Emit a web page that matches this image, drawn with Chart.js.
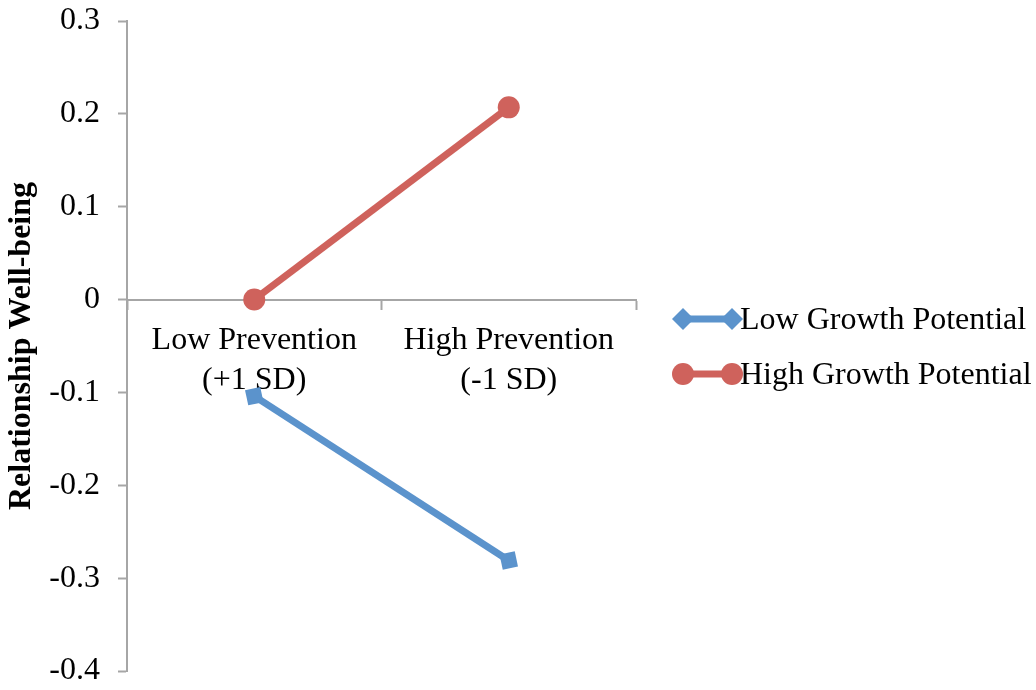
<!DOCTYPE html>
<html>
<head>
<meta charset="utf-8">
<script src="https://cdn.jsdelivr.net/npm/chart.js@4"></script>
<style>
  html, body { margin: 0; padding: 0; background: #fff; }
  #wrap { width: 1036px; height: 690px; }
</style>
</head>
<body>
<div id="wrap"><canvas id="chart"></canvas></div>
<script>
const categories = [["Low Prevention", "(+1 SD)"], ["High Prevention", "(-1 SD)"]];
const lowGrowth = [-0.104, -0.281];
const highGrowth = [0.0, 0.207];
const seriesNames = ["Low Growth Potential", "High Growth Potential"];

const BLUE = "#5B93CC";
const RED = "#CF625C";
const FONT = "'Liberation Serif', 'Times New Roman', serif";

// legend drawn by hand: line with a marker at each end, like the original
const sideLegend = {
  id: "sideLegend",
  afterDraw(chart) {
    const ctx = chart.ctx;
    const x0 = 683, x1 = 732;
    const ys = [319, 374];
    chart.data.datasets.forEach((ds, i) => {
      const y = ys[i];
      ctx.save();
      ctx.strokeStyle = ds.borderColor;
      ctx.lineWidth = 7;
      ctx.beginPath();
      ctx.moveTo(x0, y);
      ctx.lineTo(x1, y);
      ctx.stroke();
      const opts = { pointStyle: ds.legendStyle, radius: ds.legendRadius, rotation: 0, borderWidth: 0 };
      ctx.fillStyle = ds.borderColor;
      ctx.strokeStyle = ds.borderColor;
      Chart.helpers.drawPoint(ctx, opts, x0, y);
      Chart.helpers.drawPoint(ctx, opts, x1, y);
      ctx.fillStyle = "#000";
      ctx.font = "32px " + FONT;
      ctx.textBaseline = "middle";
      ctx.fillText(ds.label, 740, y + 2);
      ctx.restore();
    });
  }
};

new Chart(document.getElementById("chart"), {
  type: "line",
  data: {
    labels: categories,
    datasets: [
      {
        label: seriesNames[0],
        data: lowGrowth,
        borderColor: BLUE,
        backgroundColor: BLUE,
        borderWidth: 7,
        pointStyle: "rect",
        pointRotation: -12,
        pointRadius: 11,
        pointBorderWidth: 0,
        legendStyle: "rectRot",
        legendRadius: 11
      },
      {
        label: seriesNames[1],
        data: highGrowth,
        borderColor: RED,
        backgroundColor: RED,
        borderWidth: 7,
        pointStyle: "circle",
        pointRadius: 11,
        pointBorderWidth: 0,
        legendStyle: "circle",
        legendRadius: 11
      }
    ]
  },
  options: {
    responsive: true,
    maintainAspectRatio: false,
    animation: false,
    layout: { padding: { left: 0, right: 400, top: 21, bottom: 19 } },
    plugins: {
      legend: { display: false },
      tooltip: { enabled: false }
    },
    scales: {
      x: {
        position: { y: 0 },
        offset: true,
        afterFit(scale) { scale.paddingLeft = 0; scale.paddingRight = 0; },
        grid: {
          offset: true,
          drawOnChartArea: false,
          drawTicks: true,
          tickLength: 9,
          tickColor: "#A6A6A6",
          tickWidth: 2
        },
        border: { color: "#A6A6A6", width: 2 },
        ticks: {
          color: "#000",
          font: { family: FONT, size: 32, lineHeight: 1.25 },
          padding: 12,
          maxRotation: 0,
          autoSkip: false
        }
      },
      y: {
        min: -0.4,
        max: 0.3,
        afterFit(scale) {
          scale.width = 127;
          scale.paddingTop = 0;
          scale.paddingBottom = 0;
        },
        grid: {
          drawOnChartArea: false,
          drawTicks: true,
          tickLength: 9,
          tickColor: "#A6A6A6",
          tickWidth: 2
        },
        border: { color: "#A6A6A6", width: 2 },
        ticks: {
          stepSize: 0.1,
          color: "#000",
          font: { family: FONT, size: 32 },
          padding: 18,
          callback: v => {
            const r = Math.round(v * 10) / 10;
            return r === 0 ? "0" : r.toFixed(1);
          }
        },
        title: {
          display: true,
          text: "Relationship Well-being",
          color: "#000",
          font: { family: FONT, size: 32, weight: "bold" },
          padding: { top: 3, bottom: 0 }
        }
      }
    }
  },
  plugins: [sideLegend]
});
</script>
</body>
</html>
